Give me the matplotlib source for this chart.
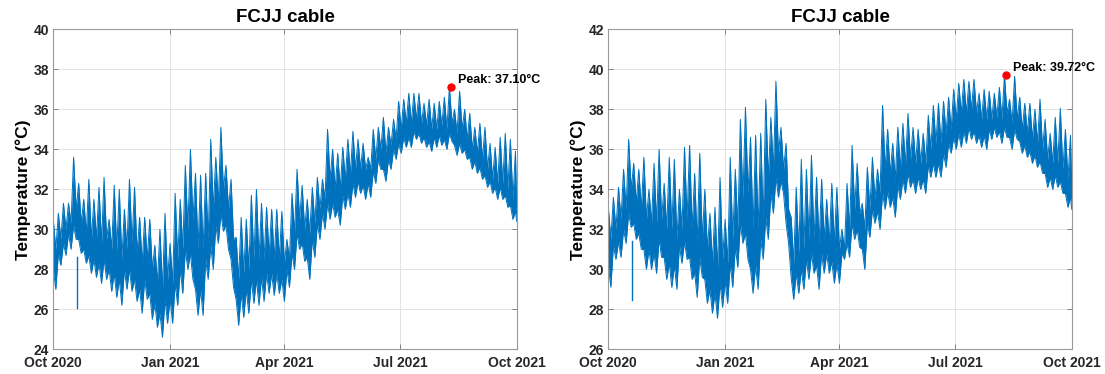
import numpy as np
import matplotlib
matplotlib.use("Agg")
import matplotlib.pyplot as plt
import matplotlib.dates as mdates

# ---------------- data ----------------
start = np.datetime64("2020-10-01")
days = np.arange(0, 365, 4)  # sample grid, days since 2020-10-01

# daily-peak tops (spike tops) in each 4-day window
left_high = [30.5, 30.8, 31.3, 31.3, 33.6, 32.3, 31.5, 32.5, 31.5, 32.1,
             32.6, 30.5, 32.2, 32.0, 31.0, 32.5, 32.1, 30.6, 30.6, 30.5,
             29.2, 30.0, 30.8, 29.3, 31.8, 31.5, 33.2, 34.0, 32.8, 32.7,
             32.8, 34.5, 33.6, 35.1, 33.2, 32.5, 29.6, 30.6, 30.5, 31.7,
             32.0, 31.3, 31.1, 31.0, 31.0, 30.9, 29.5, 31.8, 33.0, 32.2,
             31.5, 32.1, 32.6, 32.5, 35.0, 34.0, 33.8, 34.1, 34.5, 34.9,
             34.5, 34.3, 33.6, 35.0, 35.1, 35.6, 35.1, 35.5, 36.4, 36.5,
             36.8, 36.8, 36.8, 36.3, 36.5, 36.3, 36.4, 36.6, 37.1, 36.0,
             36.9, 36.0, 35.8, 35.1, 35.3, 35.1, 34.3, 34.1, 34.6, 34.8,
             34.5, 33.9]
# top level of the valleys between the spikes
left_body = [29.0, 29.5, 30.0, 30.3, 31.0, 30.3, 29.8, 29.5, 29.5, 29.3,
             29.5, 29.0, 29.0, 28.5, 29.0, 29.3, 28.8, 28.3, 28.5, 28.0,
             27.3, 27.0, 27.5, 27.3, 28.5, 29.0, 30.0, 30.5, 29.0, 29.0,
             29.5, 31.0, 31.3, 32.0, 31.0, 29.5, 27.5, 27.8, 28.0, 28.5,
             28.5, 28.5, 28.7, 28.5, 28.5, 28.3, 28.5, 29.8, 30.5, 30.0,
             29.8, 30.3, 31.0, 31.5, 32.5, 32.0, 32.0, 32.5, 32.7, 33.0,
             33.0, 33.0, 33.0, 33.5, 34.0, 33.8, 34.2, 34.5, 35.0, 35.3,
             35.3, 35.5, 35.3, 35.2, 35.0, 35.0, 35.2, 35.0, 35.3, 34.8,
             35.0, 34.5, 34.0, 33.8, 33.5, 33.0, 32.5, 32.3, 32.3, 32.0,
             31.5, 31.0]
# bottom level between the low dips
left_rise = [28.0, 28.8, 29.3, 29.8, 30.2, 29.5, 29.0, 28.7, 28.5, 28.3,
             28.5, 28.0, 27.8, 27.5, 28.0, 28.0, 27.5, 27.0, 27.5, 26.8,
             26.3, 25.8, 26.5, 26.5, 27.3, 28.0, 29.0, 28.8, 27.0, 27.0,
             28.5, 29.2, 30.2, 30.8, 30.2, 28.5, 26.5, 26.8, 27.0, 27.5,
             27.5, 27.6, 27.8, 27.8, 27.8, 27.5, 28.0, 28.8, 29.8, 29.3,
             28.6, 29.5, 30.3, 30.8, 31.3, 31.3, 31.0, 31.7, 31.8, 32.3,
             32.4, 32.2, 32.3, 32.9, 33.5, 33.0, 33.5, 34.0, 34.3, 34.6,
             34.6, 34.9, 34.8, 34.6, 34.4, 34.6, 34.7, 34.5, 34.8, 34.2,
             34.3, 34.0, 33.6, 33.4, 33.1, 32.7, 32.4, 32.1, 32.1, 31.7,
             31.2, 30.9]
# bottom of the low dips
left_low = [27.0, 28.2, 28.7, 29.0, 29.5, 28.8, 28.3, 27.8, 27.6, 27.3,
            27.5, 26.9, 26.6, 26.2, 27.0, 26.9, 26.4, 25.8, 26.5, 25.5,
            25.1, 24.6, 25.3, 25.3, 26.2, 26.8, 28.0, 27.5, 25.7, 25.7,
            27.5, 28.0, 29.3, 29.9, 29.0, 27.1, 25.2, 25.6, 25.8, 26.3,
            26.2, 26.4, 26.8, 26.7, 26.8, 26.4, 27.1, 28.0, 29.0, 28.4,
            27.5, 28.6, 29.5, 30.0, 30.5, 30.6, 30.2, 31.0, 31.1, 31.6,
            31.8, 31.5, 31.6, 32.3, 33.0, 32.4, 33.0, 33.5, 33.8, 34.1,
            34.1, 34.5, 34.3, 34.1, 33.9, 34.1, 34.2, 34.0, 34.4, 33.7,
            33.8, 33.5, 33.0, 32.8, 32.5, 32.1, 31.8, 31.5, 31.5, 31.1,
            30.5, 30.4]

right_high = [33.1, 33.6, 34.1, 35.0, 36.5, 35.3, 35.0, 35.6, 34.0, 35.3,
              36.0, 34.3, 35.6, 35.5, 34.0, 36.1, 36.2, 34.8, 35.8, 34.0,
              32.8, 33.1, 34.6, 32.5, 35.6, 35.0, 37.5, 38.1, 36.6, 36.7,
              36.8, 38.5, 37.6, 39.4, 37.1, 36.3, 32.6, 34.1, 35.5, 35.0,
              35.7, 34.6, 34.5, 33.5, 34.3, 34.1, 32.0, 34.3, 36.2, 35.3,
              33.3, 35.1, 35.6, 35.0, 38.2, 37.0, 36.3, 37.1, 37.3, 37.8,
              37.1, 37.0, 36.8, 37.7, 38.2, 38.3, 38.4, 38.6, 39.0, 39.3,
              39.5, 39.4, 39.5, 38.8, 39.0, 38.9, 38.8, 39.1, 39.72, 38.5,
              39.65, 38.6, 38.3, 38.3, 38.0, 38.5, 37.5, 36.8, 37.6, 38.05,
              37.0, 36.7]
right_body = [31.5, 32.0, 32.5, 33.0, 34.0, 33.3, 33.0, 32.5, 32.3, 32.3,
              32.5, 32.0, 32.0, 31.5, 32.0, 32.5, 32.0, 31.3, 31.5, 31.0,
              30.3, 30.0, 30.5, 30.3, 31.5, 32.0, 33.5, 33.8, 32.0, 32.0,
              32.5, 34.5, 35.0, 35.8, 35.0, 33.0, 30.3, 30.8, 31.0, 31.5,
              31.5, 31.3, 31.5, 31.3, 31.3, 31.0, 31.0, 32.0, 33.0, 32.8,
              32.0, 33.0, 33.5, 33.8, 35.0, 34.8, 34.5, 35.0, 35.2, 35.5,
              35.3, 35.3, 35.3, 36.0, 36.3, 36.3, 36.8, 37.0, 37.5, 37.8,
              37.8, 38.0, 37.8, 37.5, 37.5, 37.5, 37.6, 37.5, 37.8, 37.3,
              37.5, 37.0, 36.8, 36.5, 36.3, 36.0, 35.5, 35.3, 35.3, 35.0,
              34.5, 34.0]
right_rise = [30.2, 31.2, 31.4, 32.0, 32.8, 32.3, 31.8, 31.0, 31.0, 30.8,
              31.5, 30.6, 30.3, 30.2, 31.2, 31.4, 30.6, 29.8, 30.6, 29.5,
              29.0, 28.8, 29.3, 29.4, 30.3, 31.1, 32.3, 31.8, 30.0, 30.2,
              31.5, 32.6, 33.8, 34.6, 34.4, 32.3, 29.6, 29.8, 30.0, 30.5,
              30.8, 30.2, 30.8, 30.8, 30.4, 30.3, 30.8, 31.3, 32.3, 32.0,
              31.0, 32.3, 33.0, 32.9, 33.8, 33.9, 33.6, 34.2, 34.5, 34.8,
              34.5, 34.6, 34.5, 35.2, 35.3, 35.3, 35.8, 36.3, 36.6, 36.8,
              36.9, 37.1, 36.9, 36.7, 36.7, 37.0, 37.1, 36.9, 37.1, 36.6,
              37.0, 36.4, 36.2, 35.9, 35.7, 35.4, 34.8, 34.6, 34.7, 34.4,
              33.8, 33.6]
right_low = [29.1, 30.5, 30.6, 31.3, 32.1, 31.5, 31.0, 30.0, 30.0, 29.8,
             30.6, 29.5, 29.1, 29.0, 30.3, 30.5, 29.5, 28.6, 29.6, 28.3,
             27.8, 27.55, 28.1, 28.3, 29.1, 30.1, 31.3, 30.5, 28.8, 29.0,
             30.5, 31.5, 32.8, 33.6, 33.8, 31.3, 28.5, 28.8, 29.0, 29.5,
             29.8, 29.0, 29.8, 29.8, 29.3, 29.3, 30.5, 30.6, 31.5, 31.1,
             30.0, 31.6, 32.3, 32.0, 33.0, 33.1, 32.6, 33.5, 33.8, 34.1,
             33.8, 34.0, 33.8, 34.6, 34.6, 34.6, 35.1, 35.8, 36.0, 36.1,
             36.3, 36.5, 36.3, 36.1, 36.0, 36.5, 36.6, 36.3, 36.6, 36.0,
             36.5, 35.8, 35.6, 35.3, 35.1, 34.8, 34.1, 34.0, 34.1, 33.8,
             33.1, 33.0]

# single downward outlier spike
dip_day = 19
left_dip = [28.6, 26.05]
right_dip = [31.4, 28.45]

# peaks
peak_day = 313
left_peak = 37.10
right_peak = 39.72

titles = ["FCJJ cable", "FCJJ cable"]
ylims = [(24, 40), (26, 42)]
tick_dates = ["2020-10-01", "2021-01-01", "2021-04-01", "2021-07-01", "2021-10-01"]
tick_labels = ["Oct 2020", "Jan 2021", "Apr 2021", "Jul 2021", "Oct 2021"]

# ---------------- plotting ----------------
plt.rcParams["font.family"] = ["Liberation Sans", "DejaVu Sans"]
plt.rcParams["font.weight"] = "bold"

BLUE = "#0072BD"
fig = plt.figure(figsize=(11.05, 3.74), dpi=100)
axes = [fig.add_axes([0.0482, 0.066, 0.4194, 0.8556]),
        fig.add_axes([0.5505, 0.066, 0.4194, 0.8556])]


def dnum(d):
    d = np.asarray(d, dtype=float)
    base = mdates.date2num(start.astype("datetime64[ms]").astype(object))
    return base + d


series = [(left_low, left_rise, left_body, left_high, left_dip, left_peak),
          (right_low, right_rise, right_body, right_high, right_dip, right_peak)]

for ax, (lo, ri, bo, hi, dip, pk), title, yl in zip(axes, series, titles, ylims):
    # each sample: spike top / bottom rise at day d, valley / low dip 2 days later
    d = np.asarray(days, dtype=float)
    xs = np.empty(2 * len(d))
    top_y = np.empty(2 * len(d))
    bot_y = np.empty(2 * len(d))
    xs[0::2] = d
    xs[1::2] = np.minimum(d + 2, d[-1] + 1)
    top_y[0::2] = hi
    top_y[1::2] = bo
    bot_y[0::2] = ri
    bot_y[1::2] = lo
    tx = dnum(xs)
    ax.fill_between(tx, bot_y, top_y, color=BLUE, lw=0)
    ax.plot(tx, top_y, color=BLUE, lw=0.7)
    ax.plot(tx, bot_y, color=BLUE, lw=0.7)
    ax.plot(dnum([dip_day, dip_day]), dip, color=BLUE, lw=1.0)
    tp = dnum([peak_day])[0]
    ax.plot([tp], [pk], "o", color="red", ms=5, zorder=5)
    ax.annotate(f"Peak: {pk:.2f}°C", xy=(tp, pk), xytext=(5.5, 5),
                textcoords="offset points", ha="left", va="center",
                fontsize=9, fontweight="bold")

    ticks = [mdates.date2num(np.datetime64(s).astype("datetime64[ms]").astype(object))
             for s in tick_dates]
    ax.set_xlim(ticks[0], ticks[-1])
    ax.set_ylim(*yl)
    ax.set_xticks(ticks)
    ax.set_xticklabels(tick_labels)
    ax.set_yticks(np.arange(yl[0], yl[1] + 1, 2))
    ax.set_title(title, fontsize=13.5, fontweight="bold", pad=5)
    ax.set_ylabel("Temperature (°C)", fontsize=12.5, fontweight="bold", labelpad=2)
    ax.grid(True, color="#e3e3e3", lw=0.7)
    ax.set_axisbelow(True)
    ax.tick_params(direction="in", length=3.5, width=0.7, labelcolor="#262626",
                   top=True, right=True, labelsize=10, color="#808080")
    ax.tick_params(axis="x", pad=4.5)
    ax.tick_params(axis="y", pad=3)
    for lab in ax.get_xticklabels() + ax.get_yticklabels():
        lab.set_fontweight("bold")
    for s in ax.spines.values():
        s.set_color("#999999")
        s.set_linewidth(0.8)

fig.savefig("out.png", dpi=100)
